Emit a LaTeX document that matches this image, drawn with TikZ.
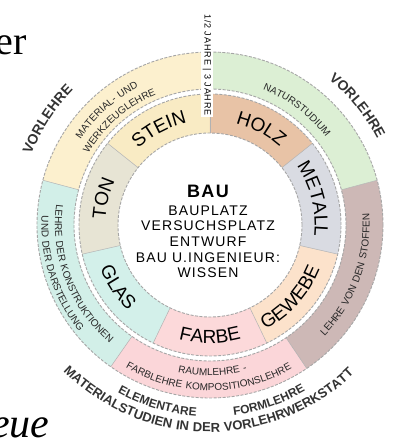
\documentclass[tikz,border=0pt]{standalone}
\usepackage{fontspec}
\setmainfont{Liberation Serif}
\newfontfamily\labelfont{Liberation Sans}[LetterSpace=8]
\newfontfamily\ringfont{Liberation Sans}[LetterSpace=10]
\newfontfamily\outerfont{Liberation Sans}[LetterSpace=5]
\usetikzlibrary{decorations.text}
\tikzset{>=stealth}

\definecolor{crsyellow}{HTML}{FCF0CE}
\definecolor{crsgreen}{HTML}{DCEFD4}
\definecolor{crsbrown}{HTML}{CDB8B6}
\definecolor{crspink}{HTML}{FBD6D9}
\definecolor{crsteal}{HTML}{D2EFE8}
\definecolor{matstein}{HTML}{F9EBC4}
\definecolor{matholz}{HTML}{E8C3A6}
\definecolor{matmetall}{HTML}{D9DBE2}
\definecolor{matgewebe}{HTML}{FCE2CB}
\definecolor{matfarbe}{HTML}{FCD9DA}
\definecolor{matglas}{HTML}{D3F0EA}
\definecolor{matton}{HTML}{E7E4D4}

\def\matfont{\labelfont\fontsize{19}{19}\selectfont}
\def\crsfont{\ringfont\fontsize{10}{10}\selectfont\color{black!85}}
\def\vorfont{\outerfont\bfseries\fontsize{14}{14}\selectfont\color{black!80}}
\def\basefont{\outerfont\bfseries\fontsize{12}{12}\selectfont\color{black!80}}
\def\basewide{\outerfont\bfseries\fontsize{13}{13}\selectfont\color{black!80}}

\newcommand\sector[5]{\fill [#1] (#2:#4) arc (#2:#3:#4) -- (#3:#5) arc (#3:#2:#5) -- cycle;}
\newcommand\arctext[4]{\path [decorate, decoration={text along path, text align=center, text={#4}}] (#2:#1) arc (#2:#3:#1);}

\tikzset{
  ringline/.style={gray!70, line width=0.9pt, dash pattern=on 3pt off 1.5pt},
  divline/.style={gray!60, line width=0.5pt}
}

\begin{document}
\begin{tikzpicture}[x=1pt, y=1pt]
  \useasboundingbox (-210,-217) rectangle (185,225);

  % course ring
  \sector{crsyellow}{90}{165}{136pt}{173pt}
  \sector{crsteal}{165}{235}{136pt}{173pt}
  \sector{crspink}{235}{304}{136pt}{173pt}
  \sector{crsbrown}{304}{375}{136pt}{173pt}
  \sector{crsgreen}{15}{90}{136pt}{173pt}

  % material ring
  \sector{matstein}{90}{141.43}{92pt}{131pt}
  \sector{matton}{141.43}{192.86}{92pt}{131pt}
  \sector{matglas}{192.86}{244.29}{92pt}{131pt}
  \sector{matfarbe}{244.29}{295.71}{92pt}{131pt}
  \sector{matgewebe}{295.71}{347.14}{92pt}{131pt}
  \sector{matmetall}{347.14}{398.57}{92pt}{131pt}
  \sector{matholz}{38.57}{90}{92pt}{131pt}

  \draw [divline] (90:136pt) -- (90:173pt);
  \draw [divline] (165:136pt) -- (165:173pt);
  \draw [divline] (235:136pt) -- (235:173pt);
  \draw [divline] (304:136pt) -- (304:173pt);
  \draw [divline] (15:136pt) -- (15:173pt);
  \draw [divline] (90:92pt) -- (90:131pt);
  \draw [divline] (141.43:92pt) -- (141.43:131pt);
  \draw [divline] (192.86:92pt) -- (192.86:131pt);
  \draw [divline] (244.29:92pt) -- (244.29:131pt);
  \draw [divline] (295.71:92pt) -- (295.71:131pt);
  \draw [divline] (347.14:92pt) -- (347.14:131pt);
  \draw [divline] (38.57:92pt) -- (38.57:131pt);

  \draw [ringline] (0,0) circle (92pt);
  \draw [ringline] (0,0) circle (131pt);
  \draw [ringline] (0,0) circle (136pt);
  \draw [ringline] (0,0) circle (173pt);

  % materials
  \arctext{104.7pt}{168}{68}{|\matfont|STEIN}
  \arctext{104.7pt}{112}{12}{|\matfont|HOLZ}
  \arctext{104.7pt}{64}{-36}{|\matfont|METALL}
  \arctext{104.7pt}{216}{116}{|\matfont|TON}
  \arctext{118.3pt}{164}{264}{|\matfont|GLAS}
  \arctext{118.3pt}{220}{320}{|\matfont|FARBE}
  \arctext{118.3pt}{268}{368}{|\matfont|GEWEBE}

  % courses
  \arctext{155pt}{192}{72}{|\crsfont|MATERIAL- UND}
  \arctext{141pt}{191}{71}{|\crsfont|WERKZEUGLEHRE}
  \arctext{145.5pt}{113}{-7}{|\crsfont|NATURSTUDIUM}
  \arctext{159.5pt}{280}{400}{|\crsfont|LEHRE VON DEN STOFFEN}
  \arctext{155pt}{141}{261}{|\crsfont|LEHRE DER KONSTRUKTIONEN}
  \arctext{168.5pt}{138}{258}{|\crsfont|UND DER DARSTELLUNG}
  \arctext{150.5pt}{211}{331}{|\crsfont|RAUMLEHRE -}
  \arctext{165.5pt}{209.5}{329.5}{|\crsfont|FARBLEHRE KOMPOSITIONSLEHRE}

  % outside
  \arctext{192pt}{197}{97}{|\vorfont|VORLEHRE}
  \arctext{188pt}{89}{-11}{|\vorfont|VORLEHRE}
  \arctext{191.5pt}{213.5}{293.5}{|\basefont|ELEMENTARE}
  \arctext{191.5pt}{248.5}{328.5}{|\basefont|FORMLEHRE}
  \arctext{207pt}{194.5}{344.5}{|\basewide|MATERIALSTUDIEN IN DER VORLEHRWERKSTATT}

  \node (years) [rotate=-90, fill=white, inner sep=1.5pt, font=\ringfont\fontsize{9}{9}\selectfont] at (-3,160) {1/2 JAHRE | 3 JAHRE};

  \node (bau) [align=center, inner sep=0pt, font=\labelfont\fontsize{14}{15.7}\selectfont] at (-2,-6.5)
    {{\fontsize{18}{18}\selectfont\bfseries BAU}\\[2pt] BAUPLATZ\\ VERSUCHSPLATZ\\ ENTWURF\\ BAU U.INGENIEUR:\\ WISSEN};

  \node (er) [anchor=base east, font=\fontsize{40}{40}\selectfont] at (-180,170) {er};
  \node (neue) [anchor=base east, font=\fontsize{42}{42}\selectfont\itshape] at (-157,-212) {Neue};
\end{tikzpicture}
\end{document}
